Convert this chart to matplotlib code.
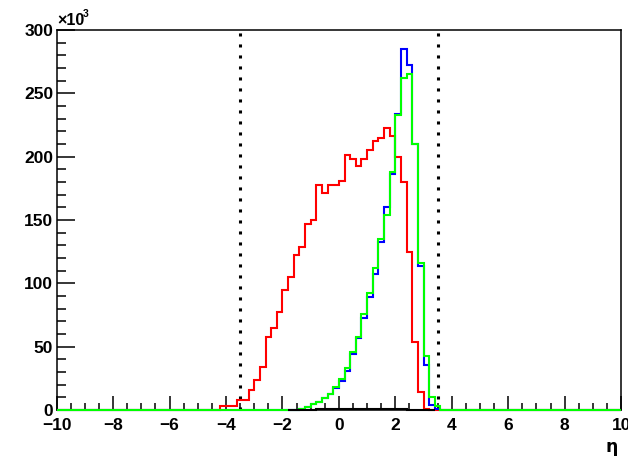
import numpy as np
import matplotlib
matplotlib.use("Agg")
import matplotlib.pyplot as plt
from matplotlib.ticker import MultipleLocator

# eta binning: 100 bins of 0.2 between -10 and 10
edges = np.linspace(-10, 10, 101)

# bin contents in units of 10^3, starting at the given lower edge
red_start = -4.2
red_k = [3.0, 3.0, 3.0, 8.0, 8.0, 16, 24, 34, 58, 64.5, 77, 95, 105, 122, 129,
         147, 150, 178, 171, 178, 178, 181, 201, 198, 193, 198, 205, 212, 215,
         223, 216, 200, 180, 125, 54, 14.5, 1.0]

blue_start = -1.8
blue_k = [0.1, 0.3, 0.6, 2.4, 4.4, 6.2, 9.2, 12.4, 17, 23, 31, 44, 56.5, 73,
          89.5, 107.5, 133, 160, 186.5, 234, 285, 272, 210, 114, 35.5, 4, 1]

green_start = -1.8
green_k = [0.1, 0.3, 0.6, 2.6, 4.7, 6.6, 9.7, 13, 18, 24.5, 33, 46, 58, 75.5,
           92, 112, 135, 154, 188, 233, 262, 265, 210, 116, 43, 10, 3]

black_start = -1.8
black_k = [0.2, 0.2, 0.3, 0.3, 0.3, 0.4, 0.4, 0.4, 0.5, 0.5, 0.5, 0.5, 0.5,
           0.5, 0.5, 0.5, 0.5, 0.5, 0.4, 0.4, 0.4, 0.3, 0.3, 0.3, 0.2, 0.2]

eta_cut = [-3.5, 3.5]


def full_hist(start, vals):
    h = np.zeros(len(edges) - 1)
    i0 = int(round((start - edges[0]) / 0.2))
    h[i0:i0 + len(vals)] = vals
    return h


fig = plt.figure(figsize=(6.28, 4.58), dpi=100)
ax = fig.add_axes([0.0903, 0.1048, 0.8987, 0.8297])

lw = 1.5
ax.stairs(full_hist(red_start, red_k), edges, color="#ff0000", lw=lw, baseline=0, clip_on=False, zorder=3)
ax.stairs(full_hist(blue_start, blue_k), edges, color="#0000ff", lw=lw, baseline=0, clip_on=False, zorder=4)
ax.stairs(full_hist(green_start, green_k), edges, color="#00ff00", lw=lw, baseline=0, clip_on=False, zorder=5)
b0 = int(round((black_start - edges[0]) / 0.2))
ax.stairs(black_k, edges[b0:b0 + len(black_k) + 1], color="black", lw=lw, baseline=None, clip_on=False, zorder=6)

for xc in eta_cut:
    ax.plot([xc, xc], [0, 300], color="black", lw=2.2, linestyle=(0, (1, 2.6)), zorder=2)

ax.set_xlim(-10, 10)
ax.set_ylim(0, 300)

ax.xaxis.set_major_locator(MultipleLocator(2))
ax.xaxis.set_minor_locator(MultipleLocator(0.5))
ax.yaxis.set_major_locator(MultipleLocator(50))
ax.yaxis.set_minor_locator(MultipleLocator(10))

lab_font = dict(family="Liberation Sans", weight="bold", size=12.5)
ax.set_xticks(np.arange(-10, 11, 2))
ax.set_xticklabels([str(v).replace("-", "\u2212") for v in range(-10, 11, 2)], **lab_font)
ax.set_yticks(np.arange(0, 301, 50))
ax.set_yticklabels([str(v) for v in range(0, 301, 50)], **lab_font)

ax.tick_params(axis="x", which="major", direction="in", length=9.8, width=1.1, pad=5.5)
ax.tick_params(axis="x", which="minor", direction="in", length=5, width=1.1)
ax.tick_params(axis="y", which="major", direction="in", length=13, width=1.1, pad=2.5)
ax.tick_params(axis="y", which="minor", direction="in", length=6.7, width=1.1)

for s in ax.spines.values():
    s.set_linewidth(1.1)

fig.text(57 / 628, 1 - 25 / 458, "\u00d710", family="Liberation Sans", weight="bold",
         size=11.5, ha="left", va="baseline")
fig.text(83 / 628, 1 - 17 / 458, "3", family="Liberation Sans", weight="bold",
         size=7.5, ha="left", va="baseline")
fig.text(618 / 628, 1 - 452 / 458, "\u03b7", family="DejaVu Sans", weight="bold",
         size=12.5, ha="right", va="baseline")

fig.savefig("out.png", dpi=100)
